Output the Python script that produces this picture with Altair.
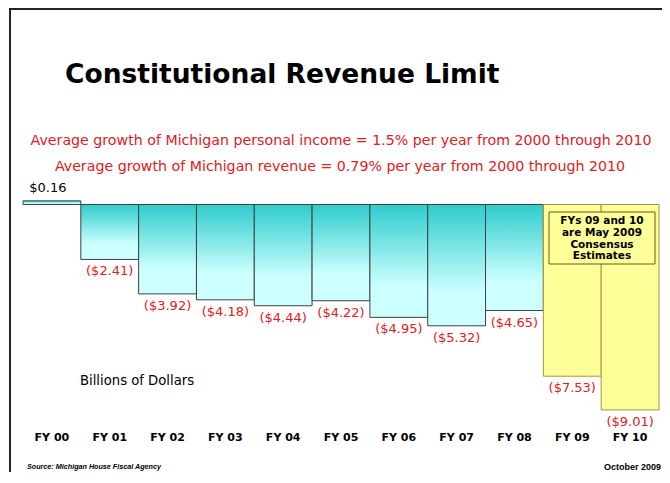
import altair as alt
import pandas as pd

categories = ["FY 00", "FY 01", "FY 02", "FY 03", "FY 04", "FY 05",
              "FY 06", "FY 07", "FY 08", "FY 09", "FY 10"]
values = [0.16, -2.41, -3.92, -4.18, -4.44, -4.22, -4.95, -5.32, -4.65, -7.53, -9.01]
estimate = [False] * 9 + [True, True]

def fmt(v):
    return f"${v:.2f}" if v >= 0 else f"(${-v:.2f})"

df = pd.DataFrame({
    "fy": categories,
    "value": values,
    "estimate": estimate,
    "label": [fmt(v) for v in values],
})

box_lines = ["FYs 09 and 10", "are May 2009", "Consensus", "Estimates"]
box_df = pd.DataFrame({"line": box_lines, "i": list(range(len(box_lines)))})

FONT = "DejaVu Sans"
NARROW = "Liberation Sans Narrow, Liberation Sans"
RED = "#E0201C"

x = alt.X("fy:N", sort=categories, axis=None,
          scale=alt.Scale(paddingInner=0, paddingOuter=0))
y = alt.Y("value:Q", axis=None,
          scale=alt.Scale(domain=[-11.732, 8.618], zero=False, nice=False))

base = alt.Chart(df)

grad = alt.Gradient(
    gradient="linear", x1=0, x2=0, y1=0, y2=1,
    stops=[alt.GradientStop(color="#2ECCCC", offset=0),
           alt.GradientStop(color="#CCFFFF", offset=0.72),
           alt.GradientStop(color="#CCFFFF", offset=1)],
)

teal = base.transform_filter("!datum.estimate").mark_bar(
    color=grad, stroke="#404040", strokeWidth=1
).encode(x=x, y=y, y2=alt.datum(0))

yellow = base.transform_filter("datum.estimate").mark_bar(
    color="#FFFF99", stroke="#A89040", strokeWidth=1
).encode(x=x, y=y, y2=alt.datum(0))

neg_labels = base.transform_filter("datum.value < 0").mark_text(
    baseline="top", dy=6, fontSize=13, font=FONT, color=RED
).encode(x=x, y=y, text="label:N")

pos_labels = base.transform_filter("datum.value >= 0").mark_text(
    baseline="bottom", dy=-6, dx=-4, fontSize=13, font=FONT, color="black"
).encode(x=x, y=y, text="label:N")

fy_labels = base.mark_text(
    baseline="middle", fontSize=11, fontWeight="bold", font=FONT, color="black"
).encode(x=x, y=alt.value(430), text="fy:N")

def txt(s, xv, yv, size, **kw):
    return alt.Chart(pd.DataFrame({"t": [s]})).mark_text(
        fontSize=size, font=kw.pop("font", FONT), **kw
    ).encode(x=alt.value(xv), y=alt.value(yv), text="t:N")

title = txt("Constitutional Revenue Limit", 42, 75, 26.5, fontWeight="bold",
            align="left", baseline="alphabetic", color="black")
line1 = txt("Average growth of Michigan personal income = 1.5% per year from 2000 through 2010",
            318, 137, 14.2, align="center", baseline="alphabetic", color=RED)
line2 = txt("Average growth of Michigan revenue = 0.79% per year from 2000 through 2010",
            317, 163, 14.2, align="center", baseline="alphabetic", color=RED)
billions = txt("Billions of Dollars", 57, 377, 13.2, align="left",
               baseline="alphabetic", color="black")
source = txt("Source:  Michigan House Fiscal Agency", 4, 459, 7.2, fontWeight="bold",
             fontStyle="italic", align="left", baseline="middle", color="black",
             font=NARROW)
october = txt("October 2009", 638, 459, 9, fontWeight="bold",
              align="right", baseline="middle", color="black", font=NARROW)

box = alt.Chart(pd.DataFrame({"a": [0]})).mark_rect(
    fill="#FFFF99", stroke="#6B5A10", strokeWidth=1
).encode(x=alt.value(526), x2=alt.value(632), y=alt.value(204), y2=alt.value(256))

box_text = alt.Chart(box_df).mark_text(
    fontSize=10.5, fontWeight="bold", font=FONT, color="black", baseline="middle"
).encode(
    x=alt.value(579),
    y=alt.Y("i:Q", axis=None,
            scale=alt.Scale(domain=[0, 3], range=[213, 248.4], zero=False, nice=False)),
    text="line:N",
)

frame_left = alt.Chart(pd.DataFrame({"a": [0]})).mark_rule(
    color="#222222", strokeWidth=2
).encode(x=alt.value(-13), y=alt.value(0), y2=alt.value(470))
frame_top = alt.Chart(pd.DataFrame({"a": [0]})).mark_rule(
    color="#222222", strokeWidth=2
).encode(x=alt.value(-14), x2=alt.value(640), y=alt.value(1))

chart = alt.layer(
    teal, yellow, box, box_text, neg_labels, pos_labels, fy_labels,
    title, line1, line2, billions, source, october, frame_left, frame_top
).resolve_scale(y="independent").properties(
    width=636, height=464,
    padding={"left": 15, "top": 0, "right": 3, "bottom": 0},
    autosize=alt.AutoSizeParams(type="none"),
).configure_view(stroke=None)

chart.save("out.html", embed_options={"renderer": "svg", "actions": False})
